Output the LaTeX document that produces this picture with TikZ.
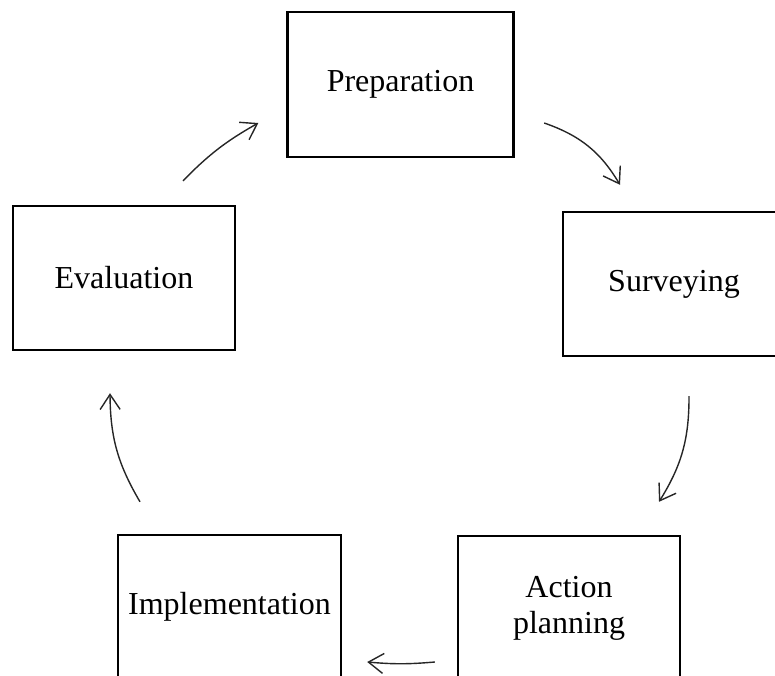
\documentclass[tikz,border=0pt]{standalone}
\usepackage{fontspec}
\setmainfont{Liberation Serif}
\usepackage{tikz}
\tikzstyle{stage}=[draw, line width=2.4pt, inner sep=0pt, align=center, minimum width=222pt, minimum height=144pt, font=\fontsize{32}{36}\selectfont]
\tikzstyle{flow}=[line width=1.4pt, draw=black!85, ->]
\usetikzlibrary{arrows.meta,positioning,calc}

\begin{document}
\begin{tikzpicture}[x=1pt,y=1pt,>={Straight Barb[length=15pt,width=20pt]}]
\useasboundingbox (0,0) rectangle (775,-676);
\node (prep) [stage,minimum width=226pt,minimum height=145pt] at (400.5,-84.5) {Preparation};
\node (surv) [stage] at (674,-284) {Surveying};
\node (act) [stage] at (569,-608) {Action\\planning};
\node (impl) [stage,minimum width=223pt] at (229.5,-607) {Implementation};
\node (eval) [stage] at (124,-278) {Evaluation};
% cycle arrows
\draw[flow] ([shift={(59,24)}]eval.north) to[bend left=8] ([shift={(-28,-38.5)}]prep.west);
\draw[flow] ([shift={(29.5,-38.5)}]prep.east) to[bend left=20] ([shift={(-54,26)}]surv.north);
\draw[flow] ([shift={(15,-39)}]surv.south) to[bend left=16] ([shift={(90,33)}]act.north);
\draw[flow] ([shift={(-22,-54)}]act.west) to[bend left=5] ([shift={(25,-55)}]impl.east);
\draw[flow] ([shift={(-89.5,32)}]impl.north) to[bend left=15] ([shift={(-14,-42)}]eval.south);
\end{tikzpicture}
\end{document}
